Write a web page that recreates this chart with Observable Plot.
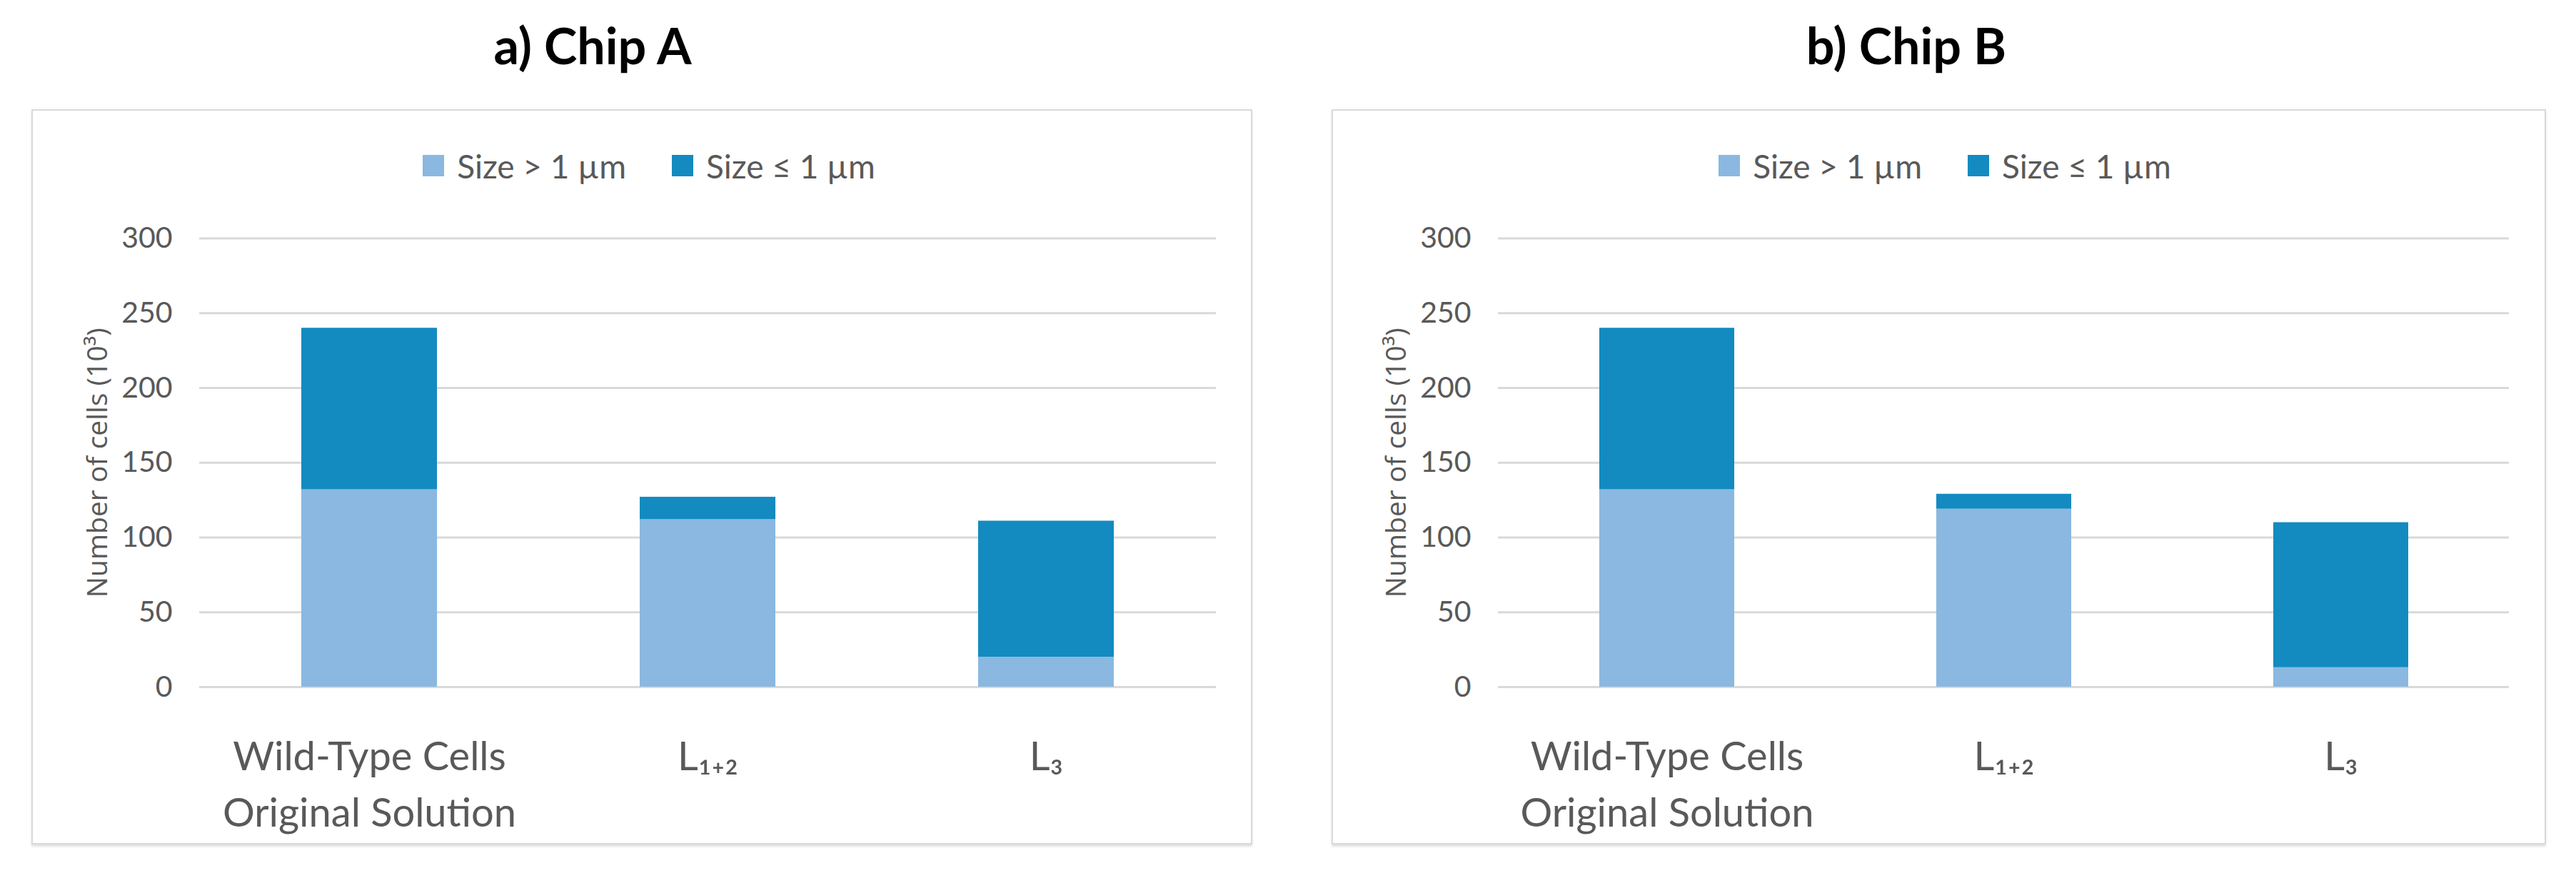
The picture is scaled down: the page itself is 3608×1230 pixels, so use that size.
<!DOCTYPE html>
<html>
<head>
<meta charset="utf-8">
<script src="https://cdn.jsdelivr.net/npm/d3@7"></script>
<script src="https://cdn.jsdelivr.net/npm/@observablehq/plot@0.6"></script>
<style>
  html, body { margin: 0; padding: 0; background: #ffffff; }
  body { width: 3608px; height: 1230px; position: relative; overflow: hidden; font-family: Lato, "Noto Sans", sans-serif; }
  .title { position: absolute; width: 800px; text-align: center; font-weight: bold; font-size: 70px; line-height: 1; color: #000; font-family: Lato, sans-serif; }
  .box { position: absolute; box-sizing: border-box; border: 2px solid #d9d9d9; background: #fff; box-shadow: 0 3px 3px rgba(0,0,0,0.12); }
  .legend { position: absolute; display: flex; justify-content: center; align-items: center; gap: 64px; font-size: 46px; color: #595959; font-family: Lato, sans-serif; }
  .legend .item { display: flex; align-items: center; gap: 18px; }
  .legend .sw { width: 30px; height: 30px; display: inline-block; }
  .chart { position: absolute; }
</style>
</head>
<body>
<script>
// ---- data ----
const categories = ["Wild-Type Cells\nOriginal Solution", "L₁₊₂", "L₃"];
const seriesNames = ["Size > 1 µm", "Size ≤ 1 µm"];
const seriesColors = ["#8ab8e0", "#138bc0"];
const chipALarge = [132, 112, 20];
const chipASmall = [108, 15, 91];
const chipBLarge = [132, 119, 13];
const chipBSmall = [108, 10, 97];
const yTicks = [0, 50, 100, 150, 200, 250, 300];
const yLabel = "Number of cells (10³)";
const titles = ["a) Chip A", "b) Chip B"];

function buildRows(large, small) {
  const rows = [];
  categories.forEach((c, i) => rows.push({category: c, series: seriesNames[0], value: large[i]}));
  categories.forEach((c, i) => rows.push({category: c, series: seriesNames[1], value: small[i]}));
  return rows;
}

const panels = [
  {title: titles[0], titleCx: 830, titleTop: 28, box: {l: 44, t: 153, w: 1710, h: 1030}, legendCx: 909, mL: 235, mR: 51, rows: buildRows(chipALarge, chipASmall)},
  {title: titles[1], titleCx: 2670, titleTop: 28, box: {l: 1865, t: 153, w: 1701, h: 1030}, legendCx: 2724, mL: 233, mR: 52, rows: buildRows(chipBLarge, chipBSmall)}
];

const svgTop = 270;     // page y where the svg starts
const yTopPx = 333.5;   // page y of the 300 gridline
const yZeroPx = 962;    // page y of the 0 baseline

for (const p of panels) {
  const t = document.createElement("div");
  t.className = "title";
  t.textContent = p.title;
  t.style.left = (p.titleCx - 400) + "px";
  t.style.top = p.titleTop + "px";
  document.body.appendChild(t);

  const box = document.createElement("div");
  box.className = "box";
  Object.assign(box.style, {left: p.box.l + "px", top: p.box.t + "px", width: p.box.w + "px", height: p.box.h + "px"});
  document.body.appendChild(box);

  const lg = document.createElement("div");
  lg.className = "legend";
  Object.assign(lg.style, {left: (p.legendCx - 500) + "px", width: "1000px", top: "207px", height: "50px"});
  seriesNames.forEach((s, i) => {
    const it = document.createElement("span");
    it.className = "item";
    const sw = document.createElement("span");
    sw.className = "sw";
    sw.style.background = seriesColors[i];
    const tx = document.createElement("span");
    tx.textContent = s;
    it.appendChild(sw); it.appendChild(tx);
    lg.appendChild(it);
  });
  document.body.appendChild(lg);

  const bottom = p.box.t + p.box.h;
  const height = bottom - svgTop - 2;
  const chart = Plot.plot({
    width: p.box.w - 4,
    height: height,
    marginLeft: p.mL - 2,
    marginRight: p.mR - 2,
    marginTop: yTopPx - svgTop,
    marginBottom: height - (yZeroPx - svgTop),
    style: {fontFamily: "Lato, sans-serif", color: "#595959", background: "transparent", overflow: "visible"},
    x: {type: "band", domain: categories, paddingInner: 0.6, paddingOuter: 0.3, label: null},
    y: {domain: [0, 300], label: null},
    color: {domain: seriesNames, range: seriesColors},
    marks: [
      Plot.gridY(yTicks, {stroke: "#d9d9d9", strokeOpacity: 1, strokeWidth: 3}),
      Plot.barY(p.rows, Plot.stackY({x: "category", y: "value", fill: "series", order: seriesNames})),
      Plot.axisY(yTicks, {tickSize: 0, tickPadding: 38, fontSize: 41, fill: "#595959", label: null}),
      Plot.axisX({tickSize: 0, tickPadding: 60, fontSize: 56, lineHeight: 1.41, fill: "#595959", label: null}),
      Plot.text([yLabel], {frameAnchor: "left", rotate: -90, dx: -142, fontSize: 39, fill: "#595959", fontFamily: "'Open Sans', sans-serif", textAnchor: "middle"})
    ]
  });
  const wrap = document.createElement("div");
  wrap.className = "chart";
  Object.assign(wrap.style, {left: (p.box.l + 2) + "px", top: svgTop + "px"});
  wrap.appendChild(chart);
  document.body.appendChild(wrap);
}
</script>
</body>
</html>
